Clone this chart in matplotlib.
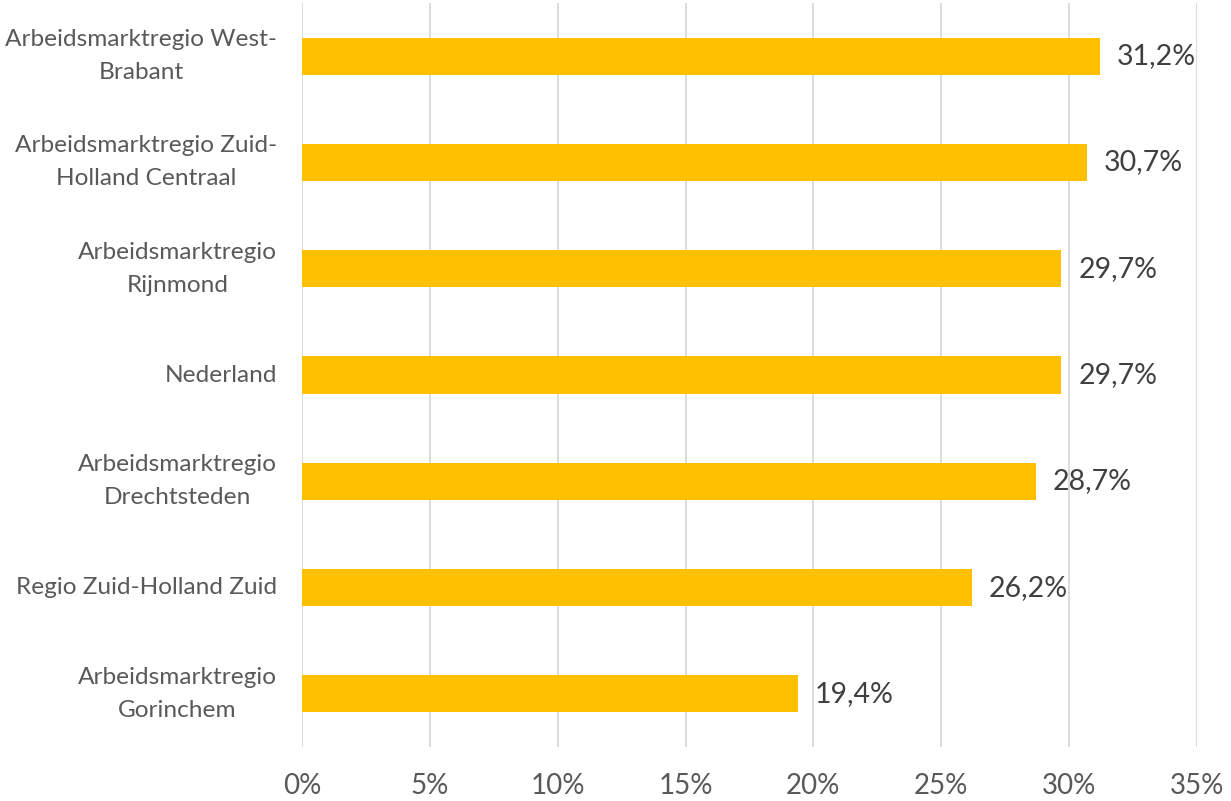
import matplotlib
matplotlib.use("Agg")
import matplotlib.pyplot as plt

categories = [
    "Arbeidsmarktregio West-\nBrabant",
    "Arbeidsmarktregio Zuid-\nHolland Centraal",
    "Arbeidsmarktregio\nRijnmond",
    "Nederland",
    "Arbeidsmarktregio\nDrechtsteden",
    "Regio Zuid-Holland Zuid",
    "Arbeidsmarktregio\nGorinchem",
]
values = [31.2, 30.7, 29.7, 29.7, 28.7, 26.2, 19.4]
value_labels = ["31,2%", "30,7%", "29,7%", "29,7%", "28,7%", "26,2%", "19,4%"]
xticks = [0, 5, 10, 15, 20, 25, 30, 35]
xtick_labels = ["0%", "5%", "10%", "15%", "20%", "25%", "30%", "35%"]

plt.rcParams['font.family'] = ['Lato', 'DejaVu Sans']

fig = plt.figure(figsize=(12.31, 8.01), dpi=100)
ax = fig.add_axes([302/1231, 1 - 747/801, (1197-302)/1231, 744/801])

ypos = list(range(len(categories)))
ax.barh(ypos, values, height=0.35, color="#FFC000", zorder=2)
ax.set_ylim(len(categories) - 0.5, -0.5)
ax.set_xlim(0, 35)
ax.set_xticks(xticks)
ax.set_xticklabels(xtick_labels, fontsize=20, color="#595959")
ax.set_yticks(ypos)
ax.set_yticklabels(categories, fontsize=17.6, color="#595959", ha="right",
                   va="center", multialignment="center", linespacing=1.7)
ax.tick_params(axis="y", length=0, pad=18)
ax.tick_params(axis="x", length=0, pad=19)
ax.grid(axis="x", color="#D9D9D9", linewidth=1.3, zorder=0)
for s in ax.spines.values():
    s.set_visible(False)

for y, v, lab in zip(ypos, values, value_labels):
    ax.annotate(lab, (v, y), xytext=(12, 0), textcoords="offset points",
                va="center", ha="left", fontsize=20.5, color="#404040")

fig.savefig("out.png", dpi=100)
